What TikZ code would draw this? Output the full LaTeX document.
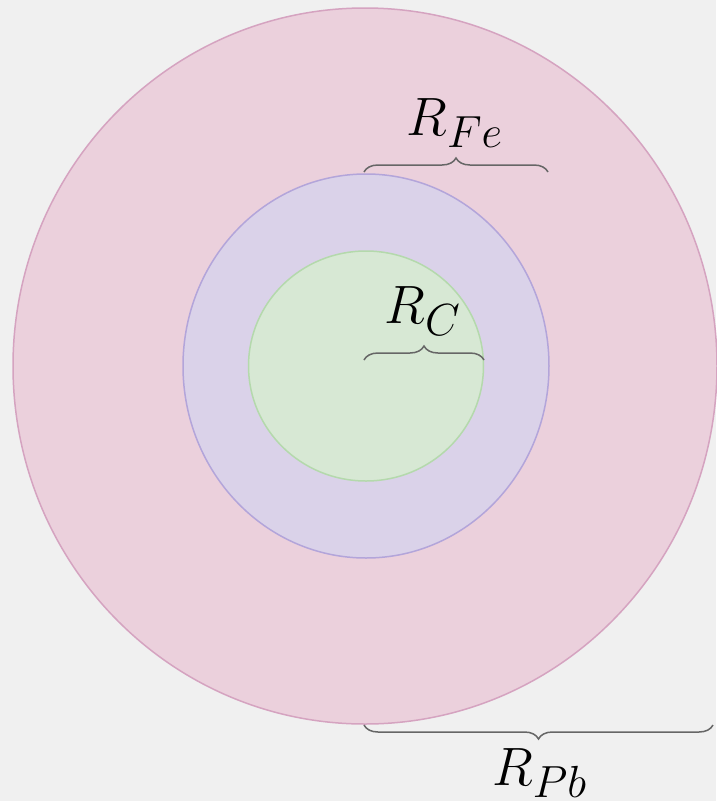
\documentclass[tikz,border=0pt]{standalone}
\usetikzlibrary{decorations.pathreplacing,shapes.geometric}
\definecolor{bgc}{HTML}{F0F0F0}
\definecolor{pbfill}{HTML}{EBD0DC}
\definecolor{pbline}{HTML}{D5A3C0}
\definecolor{fefill}{HTML}{DAD2E9}
\definecolor{feline}{HTML}{B3A5DA}
\definecolor{cfill}{HTML}{D7E8D4}
\definecolor{cline}{HTML}{B4D9AC}
\definecolor{bracec}{HTML}{666666}
\newcommand{\radtext}[1]{\scalebox{2.17}{$#1$}}

\begin{document}
\begin{tikzpicture}[x=1pt,y=-1pt,
  shell/.style={ellipse,inner sep=0pt,line width=1.5pt},
  rbrace/.style={decorate,decoration={brace,amplitude=14pt},draw=bracec,line width=1.5pt},
  rlabel/.style={anchor=base,inner sep=0pt,font=\Huge}]
  \fill[bgc] (0,0) rectangle (716,801);
  \useasboundingbox (0,0) rectangle (716,801);
  % shells
  \node[shell,fill=pbfill,draw=pbline,minimum width=704pt,minimum height=716pt] (pb) at (365,366) {};
  \node[shell,fill=fefill,draw=feline,minimum width=366pt,minimum height=384pt] (fe) at (366,366) {};
  \node[shell,fill=cfill,draw=cline,minimum width=235pt,minimum height=230pt] (c) at (366,366) {};
  % brace ends
  \coordinate (fe0) at (364,172);
  \coordinate (fe1) at (548,172);
  \coordinate (c0) at (364,360);
  \coordinate (c1) at (484,360);
  \coordinate (pb0) at (364,725);
  \coordinate (pb1) at (713,725);
  \draw[rbrace] (fe0) -- (fe1);
  \draw[rbrace] (c0) -- (c1);
  \draw[rbrace] (pb1) -- (pb0);
  % labels
  \node[rlabel] (rfe) at (455,135) {\radtext{R_{Fe}}};
  \node[rlabel] (rc) at (423,323) {\radtext{R_C}};
  \node[rlabel] (rpb) at (540,785) {\radtext{R_{Pb}}};
\end{tikzpicture}
\end{document}
